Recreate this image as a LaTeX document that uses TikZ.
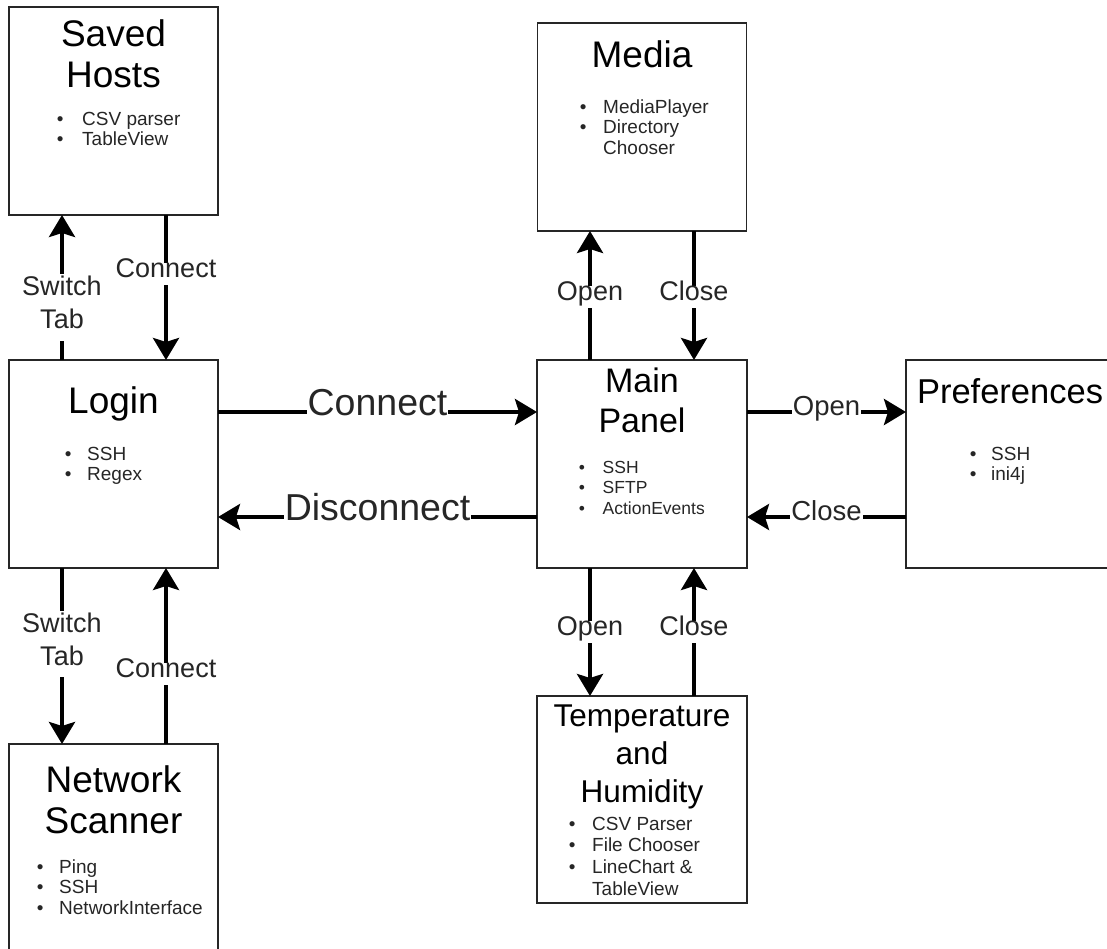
\documentclass[tikz,border=0pt]{standalone}
\usepackage{fontspec}
\setmainfont{Liberation Sans}
\usetikzlibrary{arrows.meta}
\begin{document}
\begin{tikzpicture}[x=1pt,y=-1pt,
  box/.style={draw=black!85, line width=1.5pt, minimum width=209pt, minimum height=208pt, inner sep=0pt, outer sep=0pt},
  arr/.style={line width=4pt, -{Stealth[length=22pt,width=26pt,inset=4pt]}},
  hlab/.style={fill=white, inner xsep=1pt, inner ysep=1pt, text=black!85, text height=0.72em, text depth=0pt, font=\fontsize{27.5}{33}\selectfont},
  biglab/.style={hlab, font=\fontsize{37.5}{45}\selectfont},
  vlab/.style={fill=white, inner xsep=1pt, inner ysep=6pt, text=black!85, text height=0.83em, text depth=0.15em, font=\fontsize{27}{33}\selectfont},
  mlab/.style={fill=white, inner xsep=1pt, inner ysep=2pt, text=black!85, align=center, font=\fontsize{27}{33}\selectfont},
  ttl/.style={anchor=base, inner sep=0pt},
  lst/.style={anchor=base west, inner sep=0pt, text=black!85},
]
\useasboundingbox (0,0) rectangle (1107,949);
\newcommand{\bul}{\textbullet}

% boxes
\node[box] (saved) at (113.5,111) {};
\node[box] (login) at (113.5,464) {};
\node[box] (net)   at (113.5,848) {};
\node[box] (media) at (642,127) {};
\node[box, minimum width=210pt] (main) at (642,464) {};
\node[box, minimum width=210pt] (pref) at (1011,464) {};
\node[box, minimum width=210pt, minimum height=207pt] (temp) at (642,799.5) {};

% titles
\node[ttl, font=\fontsize{37}{41}\selectfont] (savedT) at (113.5,46.5) {\begin{tabular}[t]{@{}c@{}}Saved\\Hosts\end{tabular}};
\node[ttl, font=\fontsize{37}{41}\selectfont] (loginT) at (113.5,413) {Login};
\node[ttl, font=\fontsize{37}{41}\selectfont] (netT) at (113.5,792) {\begin{tabular}[t]{@{}c@{}}Network\\Scanner\end{tabular}};
\node[ttl, font=\fontsize{37}{41}\selectfont] (mediaT) at (642,68) {Media};
\node[ttl, font=\fontsize{34}{40}\selectfont] (mainT) at (642,392) {\begin{tabular}[t]{@{}c@{}}Main\\Panel\end{tabular}};
\node[ttl, font=\fontsize{34.5}{40}\selectfont] (prefT) at (1010,403) {Preferences};
\node[ttl, font=\fontsize{31.5}{38}\selectfont] (tempT) at (642,726) {\begin{tabular}[t]{@{}c@{}}Temperature\\and\\Humidity\end{tabular}};

% lists
\node[lst, font=\fontsize{19}{20.5}\selectfont] (savedL) at (56.7,125.5) {\begin{tabular}[t]{@{}p{25.3pt}@{}l@{}}\bul & CSV parser\\ \bul & TableView\end{tabular}};
\node[lst, font=\fontsize{19}{20.5}\selectfont] (loginL) at (64.7,460) {\begin{tabular}[t]{@{}p{22.3pt}@{}l@{}}\bul & SSH\\ \bul & Regex\end{tabular}};
\node[lst, font=\fontsize{19}{20.5}\selectfont] (netL) at (36.7,873) {\begin{tabular}[t]{@{}p{22.3pt}@{}l@{}}\bul & Ping\\ \bul & SSH\\ \bul & NetworkInterface\end{tabular}};
\node[lst, font=\fontsize{19}{20.5}\selectfont] (mediaL) at (579.7,113.5) {\begin{tabular}[t]{@{}p{23.3pt}@{}l@{}}\bul & MediaPlayer\\ \bul & Directory\\ & Chooser\end{tabular}};
\node[lst, font=\fontsize{17.5}{20.5}\selectfont] (mainL) at (578.7,473) {\begin{tabular}[t]{@{}p{23.8pt}@{}l@{}}\bul & SSH\\ \bul & SFTP\\ \bul & ActionEvents\end{tabular}};
\node[lst, font=\fontsize{19}{20.5}\selectfont] (prefL) at (969.7,460) {\begin{tabular}[t]{@{}p{21.3pt}@{}l@{}}\bul & SSH\\ \bul & ini4j\end{tabular}};
\node[lst, font=\fontsize{19}{21.8}\selectfont] (tempL) at (568.7,830) {\begin{tabular}[t]{@{}p{23.3pt}@{}l@{}}\bul & CSV Parser\\ \bul & File Chooser\\ \bul & LineChart \&\\ & TableView\end{tabular}};

% connectors: left column
\draw[arr] ([xshift=-51.5pt]login.north) -- node[mlab, pos=0.362] (l1) {Switch\\Tab\strut} ([xshift=-51.5pt]saved.south);
\draw[arr] ([xshift=52.5pt]saved.south) -- node[vlab, pos=0.407] (l2) {Connect} ([xshift=52.5pt]login.north);
\draw[arr] ([xshift=-51.5pt]login.south) -- node[mlab, pos=0.432] (l3) {Switch\\Tab\strut} ([xshift=-51.5pt]net.north);
\draw[arr] ([xshift=52.5pt]net.north) -- node[vlab, pos=0.398] (l4) {Connect} ([xshift=52.5pt]login.south);

% login <-> main
\draw[arr] ([yshift=52pt]login.east) -- node[biglab, pos=0.5] (l5) {Connect} ([yshift=52pt]main.west);
\draw[arr] ([yshift=-53pt]main.west) -- node[biglab, pos=0.5] (l6) {Disconnect} ([yshift=-53pt]login.east);

% main <-> preferences
\draw[arr] ([yshift=52pt]main.east) -- node[hlab, pos=0.5] (l7) {Open} ([yshift=52pt]pref.west);
\draw[arr] ([yshift=-53pt]pref.west) -- node[hlab, pos=0.5] (l8) {Close} ([yshift=-53pt]main.east);

% main <-> media
\draw[arr] ([xshift=-52pt]main.north) -- node[vlab, pos=0.488] (l9) {Open} ([xshift=-52pt]media.south);
\draw[arr] ([xshift=52pt]media.south) -- node[vlab, pos=0.512] (l10) {Close} ([xshift=52pt]main.north);

% main <-> temperature
\draw[arr] ([xshift=-52pt]main.south) -- node[vlab, pos=0.5] (l11) {Open} ([xshift=-52pt]temp.north);
\draw[arr] ([xshift=52pt]temp.north) -- node[vlab, pos=0.5] (l12) {Close} ([xshift=52pt]main.south);
\end{tikzpicture}
\end{document}
